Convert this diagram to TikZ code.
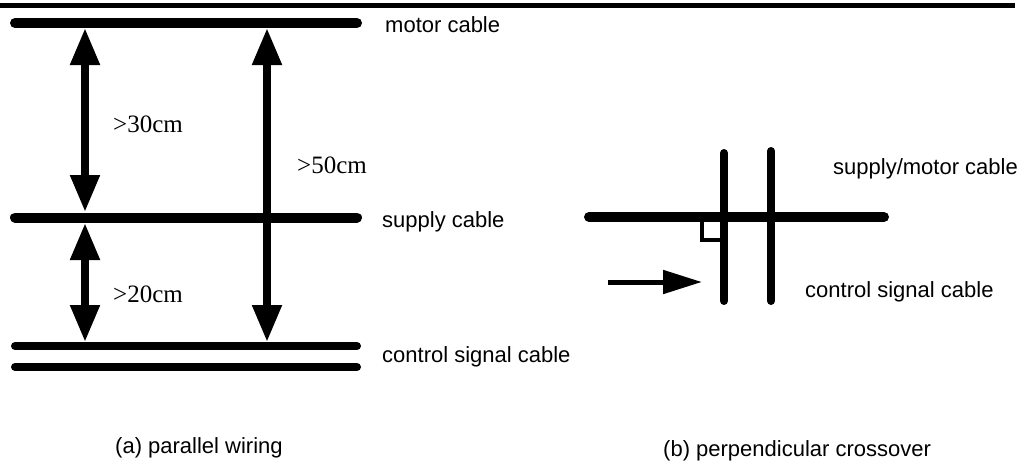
\documentclass[tikz,border=0pt]{standalone}
\usepackage{fontspec}
\setmainfont{Liberation Sans}
\newfontfamily\cmfont{Liberation Serif}
\usetikzlibrary{arrows.meta}
\tikzset{
    cable/.style={line width=10pt,line cap=round},
    ctrlcable/.style={line width=8pt,line cap=round},
    gap/.style={line width=8pt,<->},
    lbl/.style={anchor=base west,inner sep=0,font=\fontsize{22}{24}\selectfont},
    dist/.style={anchor=base west,inner sep=0,font=\cmfont\fontsize{25}{27}\selectfont},
}
\begin{document}
\begin{tikzpicture}[>={Triangle[length=37pt,width=28pt]},x=1pt,y=-1pt]
    \useasboundingbox(0,0)rectangle(1017,463);
    \draw[line width=5pt](0,5.5)--(1015,5.5);
    % (a) parallel wiring
    \coordinate(motorL)at(15,23);
    \coordinate(motorR)at(357,23);
    \coordinate(supplyL)at(15,217.5);
    \coordinate(supplyR)at(357,217.5);
    \coordinate(ctrlL)at(15,346);
    \coordinate(ctrlR)at(357,346);
    \coordinate(ctrlbL)at(15,367);
    \coordinate(ctrlbR)at(357,367);
    \draw[cable](motorL)--(motorR);
    \draw[cable](supplyL)--(supplyR);
    \draw[ctrlcable](ctrlL)--(ctrlR);
    \draw[ctrlcable](ctrlbL)--(ctrlbR);
    \coordinate(m1)at(85,28);
    \coordinate(s1)at(85,212);
    \coordinate(s2)at(85,223);
    \coordinate(c1)at(85,342);
    \coordinate(m2)at(267,28);
    \coordinate(c2)at(267,342);
    \draw[gap](m1)--(s1);
    \draw[gap](s2)--(c1);
    \draw[gap](m2)--(c2);
    \node[dist](d30)at(113,132){>30cm};
    \node[dist](d50)at(297,173){>50cm};
    \node[dist](d20)at(113,302){>20cm};
    \node[lbl](motor)at(385,32){motor cable};
    \node[lbl](supply)at(382,227){supply cable};
    \node[lbl](ctrl)at(382,362){control signal cable};
    \node[lbl](capa)at(115,453){(a) parallel wiring};
    % (b) perpendicular crossover
    \coordinate(pwrL)at(589,217);
    \coordinate(pwrR)at(884,217);
    \coordinate(sigaT)at(724,153);
    \coordinate(sigaB)at(724,301);
    \coordinate(sigbT)at(771,151);
    \coordinate(sigbB)at(771,301);
    \draw[cable](pwrL)--(pwrR);
    \draw[ctrlcable](sigaT)--(sigaB);
    \draw[ctrlcable](sigbT)--(sigbB);
    \draw[line width=3.5pt](724,240)-|(702,217);
    \coordinate(dirS)at(608,282);
    \coordinate(dirE)at(702,282);
    \draw[line width=5pt,-{Triangle[length=39pt,width=23pt]}](dirS)--(dirE);
    \node[lbl](pwr)at(833,174){supply/motor cable};
    \node[lbl](sig)at(805,297){control signal cable};
    \node[lbl](capb)at(663,456){(b) perpendicular crossover};
\end{tikzpicture}
\end{document}
